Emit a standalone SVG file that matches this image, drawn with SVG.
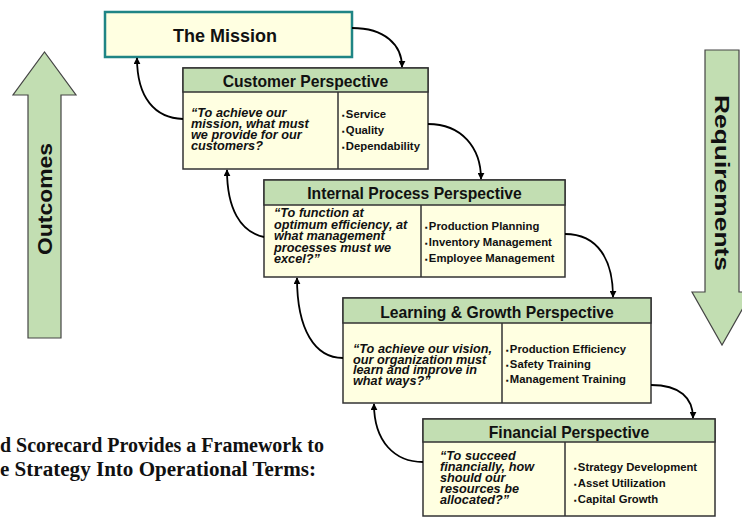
<svg xmlns="http://www.w3.org/2000/svg" width="742" height="518" viewBox="0 0 742 518">
  <defs>
    <marker id="tip" viewBox="0 0 10 10" refX="9" refY="5" markerWidth="7" markerHeight="7" markerUnits="userSpaceOnUse" orient="auto">
      <path d="M0,0 L10,5 L0,10 Z" fill="#000"/>
    </marker>
    <style>
      .body { fill: #ffffe1; stroke: #333; stroke-width: 1.5; }
      .head { fill: #c2deb2; stroke: #333; stroke-width: 1.5; }
      .div { stroke: #333; stroke-width: 1.5; }
      .htxt { font-family: "Liberation Sans", Arial, sans-serif; font-weight: bold; font-size: 15.7px; fill: #111; text-anchor: middle; }
      .q { font-family: "Liberation Sans", Arial, sans-serif; font-weight: bold; font-style: italic; font-size: 12.7px; fill: #111; }
      .b { font-family: "Liberation Sans", Arial, sans-serif; font-weight: bold; font-size: 11.3px; fill: #111; }
      .dot { font-size: 8px; }
      .big { fill: #c2deb2; stroke: #444; stroke-width: 1.2; }
      .bigtxt { font-family: "Liberation Sans", Arial, sans-serif; font-weight: bold; font-size: 20px; fill: #111; text-anchor: middle; }
      .link { fill: none; stroke: #000; stroke-width: 1.8; marker-end: url(#tip); }
      .cap { font-family: "Liberation Serif", "Times New Roman", serif; font-weight: bold; font-size: 20px; fill: #111; }
    </style>
  </defs>

  <!-- side arrows -->
  <g id="outcomes">
    <path class="big" d="M28,338 L28,95 L13,95 L44.5,52 L76,95 L61,95 L61,338 Z"/>
    <text class="bigtxt" transform="translate(51.5,199) rotate(-90)" textLength="112" lengthAdjust="spacingAndGlyphs">Outcomes</text>
  </g>
  <g id="requirements">
    <path class="big" d="M705,50 L739,50 L739,292 L752,292 L722,345 L692,292 L705,292 Z"/>
    <text class="bigtxt" transform="translate(715,183) rotate(90)" textLength="176" lengthAdjust="spacingAndGlyphs">Requirements</text>
  </g>

  <!-- mission -->
  <g id="mission">
    <rect x="105" y="12" width="247" height="45" fill="#ffffe1" stroke="#1f8585" stroke-width="2.5"/>
    <text x="225" y="41.5" font-family="Liberation Sans, Arial, sans-serif" font-weight="bold" font-size="18" fill="#111" text-anchor="middle">The Mission</text>
  </g>

  <!-- customer perspective -->
  <g id="customer">
    <rect class="body" x="183" y="68" width="245" height="101"/>
    <rect class="head" x="183" y="68" width="245" height="24"/>
    <line class="div" x1="338" y1="92" x2="338" y2="169"/>
    <text class="htxt" x="305.5" y="86.5">Customer Perspective</text>
    <text class="q">
      <tspan x="191" y="117">“To achieve our</tspan>
      <tspan x="191" y="128">mission, what must</tspan>
      <tspan x="191" y="139">we provide for our</tspan>
      <tspan x="191" y="150">customers?</tspan>
    </text>
    <text class="b">
      <tspan x="342" y="118" class="dot">▪</tspan><tspan dx="1">Service</tspan>
      <tspan x="342" y="134" class="dot">▪</tspan><tspan dx="1">Quality</tspan>
      <tspan x="342" y="150" class="dot">▪</tspan><tspan dx="1">Dependability</tspan>
    </text>
  </g>

  <!-- internal process perspective -->
  <g id="internal">
    <rect class="body" x="264" y="180" width="301" height="97"/>
    <rect class="head" x="264" y="180" width="301" height="25"/>
    <line class="div" x1="421" y1="205" x2="421" y2="277"/>
    <text class="htxt" x="414.5" y="199">Internal Process Perspective</text>
    <text class="q">
      <tspan x="274" y="217">“To function at</tspan>
      <tspan x="274" y="228.5">optimum efficiency, at</tspan>
      <tspan x="274" y="240">what management</tspan>
      <tspan x="274" y="251.5">processes must we</tspan>
      <tspan x="274" y="263">excel?”</tspan>
    </text>
    <text class="b">
      <tspan x="425" y="230" class="dot">▪</tspan><tspan dx="1">Production Planning</tspan>
      <tspan x="425" y="246" class="dot">▪</tspan><tspan dx="1">Inventory Management</tspan>
      <tspan x="425" y="261.5" class="dot">▪</tspan><tspan dx="1">Employee Management</tspan>
    </text>
  </g>

  <!-- learning & growth perspective -->
  <g id="learning">
    <rect class="body" x="343" y="298" width="308" height="105"/>
    <rect class="head" x="343" y="298" width="308" height="25"/>
    <line class="div" x1="502" y1="323" x2="502" y2="403"/>
    <text class="htxt" x="497" y="318">Learning &amp; Growth Perspective</text>
    <text class="q">
      <tspan x="353" y="353">“To achieve our vision,</tspan>
      <tspan x="353" y="363.7">our organization must</tspan>
      <tspan x="353" y="374.3">learn and improve in</tspan>
      <tspan x="353" y="385">what ways?”</tspan>
    </text>
    <text class="b">
      <tspan x="506" y="353" class="dot">▪</tspan><tspan dx="1">Production Efficiency</tspan>
      <tspan x="506" y="368" class="dot">▪</tspan><tspan dx="1">Safety Training</tspan>
      <tspan x="506" y="383" class="dot">▪</tspan><tspan dx="1">Management Training</tspan>
    </text>
  </g>

  <!-- financial perspective -->
  <g id="financial">
    <rect class="body" x="423" y="419" width="292" height="97"/>
    <rect class="head" x="423" y="419" width="292" height="23"/>
    <line class="div" x1="565" y1="442" x2="565" y2="516"/>
    <text class="htxt" x="569" y="438">Financial Perspective</text>
    <text class="q">
      <tspan x="440" y="460">“To succeed</tspan>
      <tspan x="440" y="471">financially, how</tspan>
      <tspan x="440" y="482">should our</tspan>
      <tspan x="440" y="493">resources be</tspan>
      <tspan x="440" y="504">allocated?”</tspan>
    </text>
    <text class="b">
      <tspan x="574" y="471" class="dot">▪</tspan><tspan dx="1">Strategy Development</tspan>
      <tspan x="574" y="487" class="dot">▪</tspan><tspan dx="1">Asset Utilization</tspan>
      <tspan x="574" y="503" class="dot">▪</tspan><tspan dx="1">Capital Growth</tspan>
    </text>
  </g>

  <!-- curved connectors -->
  <g id="connectors">
    <path class="link" d="M352,28 C385,28 402,45 402,67"/>
    <path class="link" d="M428,124 C462,124 481,148 481,179"/>
    <path class="link" d="M565,234 C598,234 613,260 613,297"/>
    <path class="link" d="M651,385 C680,385 693,398 693,418"/>
    <path class="link" d="M183,119 C155,118 137,98 137,58"/>
    <path class="link" d="M264,237 C240,232 227,208 227,170"/>
    <path class="link" d="M343,358 C315,358 297,330 297,278"/>
    <path class="link" d="M423,462 C395,462 374,442 374,404"/>
  </g>

  <!-- caption -->
  <g id="caption">
    <text class="cap" x="0" y="452" textLength="324" lengthAdjust="spacingAndGlyphs">d Scorecard Provides a Framework to</text>
    <text class="cap" x="0" y="476" textLength="316" lengthAdjust="spacingAndGlyphs">e Strategy Into Operational Terms:</text>
  </g>
</svg>
